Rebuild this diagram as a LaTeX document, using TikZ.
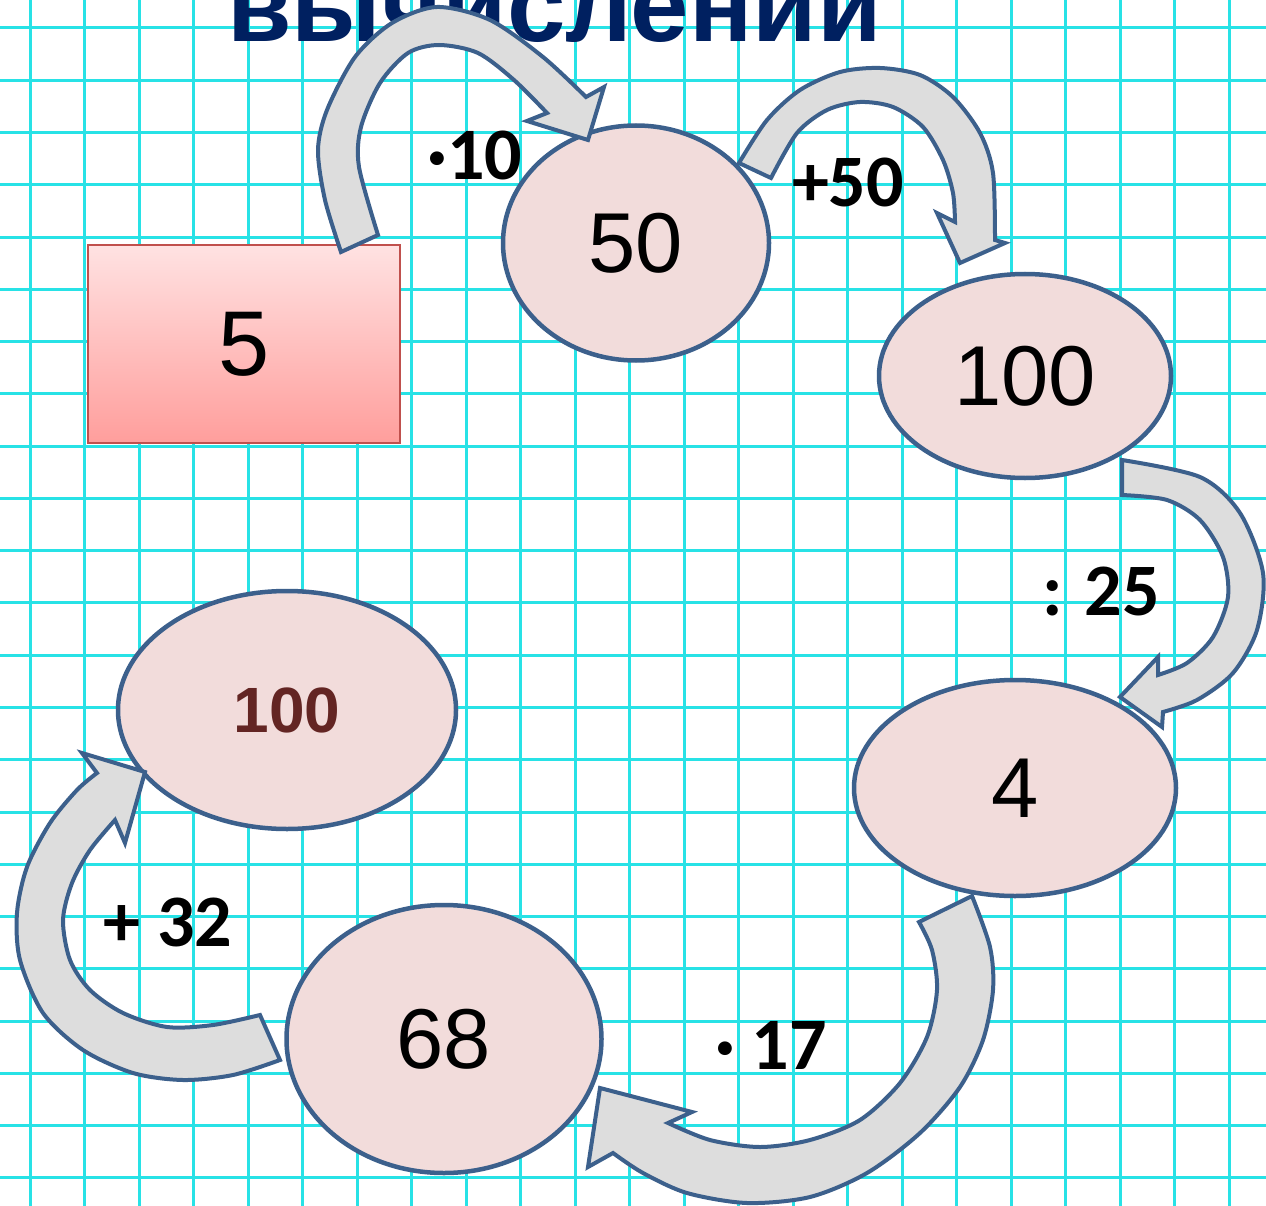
\documentclass[tikz,border=0pt]{standalone}
\usepackage{fontspec}
\setmainfont{Liberation Sans}
\newfontfamily\opfont{Carlito}
\usepackage{tikz}
\usetikzlibrary{shapes.geometric}

\definecolor{gridcyan}{RGB}{40,226,230}
\definecolor{titleblue}{RGB}{0,32,96}
\definecolor{rimblue}{RGB}{60,96,140}
\definecolor{bubblepink}{RGB}{242,220,219}
\definecolor{arrowgrey}{RGB}{221,221,221}
\definecolor{boxred}{RGB}{192,80,77}
\definecolor{resultred}{RGB}{99,37,35}

\begin{document}
\begin{tikzpicture}[x=1pt, y=-1pt,
	gridline/.style={gridcyan, line width=3pt},
	bubble/.style={ellipse, draw=rimblue, line width=4.5pt, fill=bubblepink,
		inner sep=0pt, font=\fontsize{85}{85}\selectfont},
	bendarrow/.style={draw=rimblue, line width=4pt, fill=arrowgrey, line join=miter},
	oplabel/.style={font=\opfont\bfseries\fontsize{74}{74}\selectfont}]

	\useasboundingbox (0,0) rectangle (1266,1206);
	\clip (0,0) rectangle (1266,1206);
	\fill[white] (0,0) rectangle (1266,1206);

	\foreach \gx in {30,84.5,...,1230}
		\draw[gridline] (\gx,0) -- (\gx,1206);
	\foreach \gy in {28,80.27,...,1180}
		\draw[gridline] (0,\gy) -- (1266,\gy);

	\node[anchor=base west, inner sep=0pt, text=titleblue,
		font=\bfseries\fontsize{105}{105}\selectfont] (title) at (227,42)
		{вычислений};

	\node[draw=boxred, line width=1.5pt, top color={rgb,255:red,255;green,226;blue,226},
		bottom color={rgb,255:red,255;green,158;blue,156}, minimum width=312pt,
		minimum height=198pt, inner sep=0pt, font=\fontsize{92}{92}\selectfont] (start) at (244,344)
		{5};

	\node[bubble, minimum width=266pt, minimum height=235pt] (fifty)      at (636,243)
		{50};
	\node[bubble, minimum width=292pt, minimum height=204pt] (hundred)    at (1025,376)
		{100};
	\node[bubble, minimum width=322pt, minimum height=216pt] (four)       at (1015,788)
		{4};
	\node[bubble, minimum width=315pt, minimum height=268pt] (sixtyeight) at (444,1039)
		{68};
	\node[bubble, minimum width=338pt, minimum height=238pt, text=resultred,
		font=\bfseries\fontsize{64}{64}\selectfont] (result) at (287,710)
		{100};

	\node[oplabel] (times10)  at (475,155)  {·10};
	\node[oplabel] (plus50)   at (848,182)  {+50};
	\node[oplabel] (div25)    at (1101,591) {: 25};
	\node[oplabel] (times17)  at (771,1045) {· 17};
	\node[oplabel] (plus32)   at (168,922)  {+ 32};

	% start -> fifty
	\draw[bendarrow] plot[smooth] coordinates {(341,252) (325,200) (318,150) (327,110) (355,57)
			(392,23) (437,7) (490,20) (543,57) (586,97)}
		-- (604,87) -- (588,140) -- (527,121)
		-- plot[smooth] coordinates {(547,113) (514,80) (478,53) (439,45) (408,53) (380,83)
			(361,127) (359,167) (378,235)} -- cycle;
	% fifty -> hundred
	\draw[bendarrow] plot[smooth] coordinates {(739,163) (767,120) (800,90) (840,72) (880,68)
			(920,75) (953,97) (980,133) (993,173) (995,240)}
		-- (1005,243) -- (960,263) -- (937,213)
		-- plot[smooth] coordinates {(955,222) (953,193) (943,160) (923,127) (893,107) (860,102)
			(827,110) (797,133) (771,178)} -- cycle;
	% hundred -> four
	\draw[bendarrow] plot[smooth] coordinates {(1122,460) (1200,477) (1240,513) (1263,573)
			(1257,630) (1233,673) (1197,700) (1163,712)}
		-- (1162,727) -- (1120,697) -- (1158,657)
		-- plot[smooth] coordinates {(1158,675) (1187,663) (1213,637) (1228,597) (1223,557)
			(1200,520) (1167,500) (1122,495)} -- cycle;
	% four -> sixtyeight
	\draw[bendarrow] plot[smooth] coordinates {(972,896) (990,947) (993,990) (983,1040)
			(960,1087) (920,1133) (867,1173) (810,1197) (747,1203) (687,1193) (643,1173) (613,1153)}
		-- (588,1167) -- (600,1088) -- (692,1112)
		-- plot[smooth] coordinates {(668,1123) (710,1140) (760,1147) (810,1140) (860,1120)
			(900,1083) (927,1037) (937,990) (932,950) (919,922)} -- cycle;
	% sixtyeight -> result
	\draw[bendarrow] plot[smooth] coordinates {(280,1060) (233,1075) (183,1080) (133,1073)
			(83,1050) (43,1013) (20,960) (17,913) (27,867) (50,823) (77,790) (97,773)}
		-- (82,753) -- (145,772) -- (125,843)
		-- plot[smooth] coordinates {(115,820) (90,850) (72,883) (63,920) (70,960) (90,990)
			(123,1013) (167,1027) (213,1025) (260,1015)} -- cycle;
\end{tikzpicture}
\end{document}
